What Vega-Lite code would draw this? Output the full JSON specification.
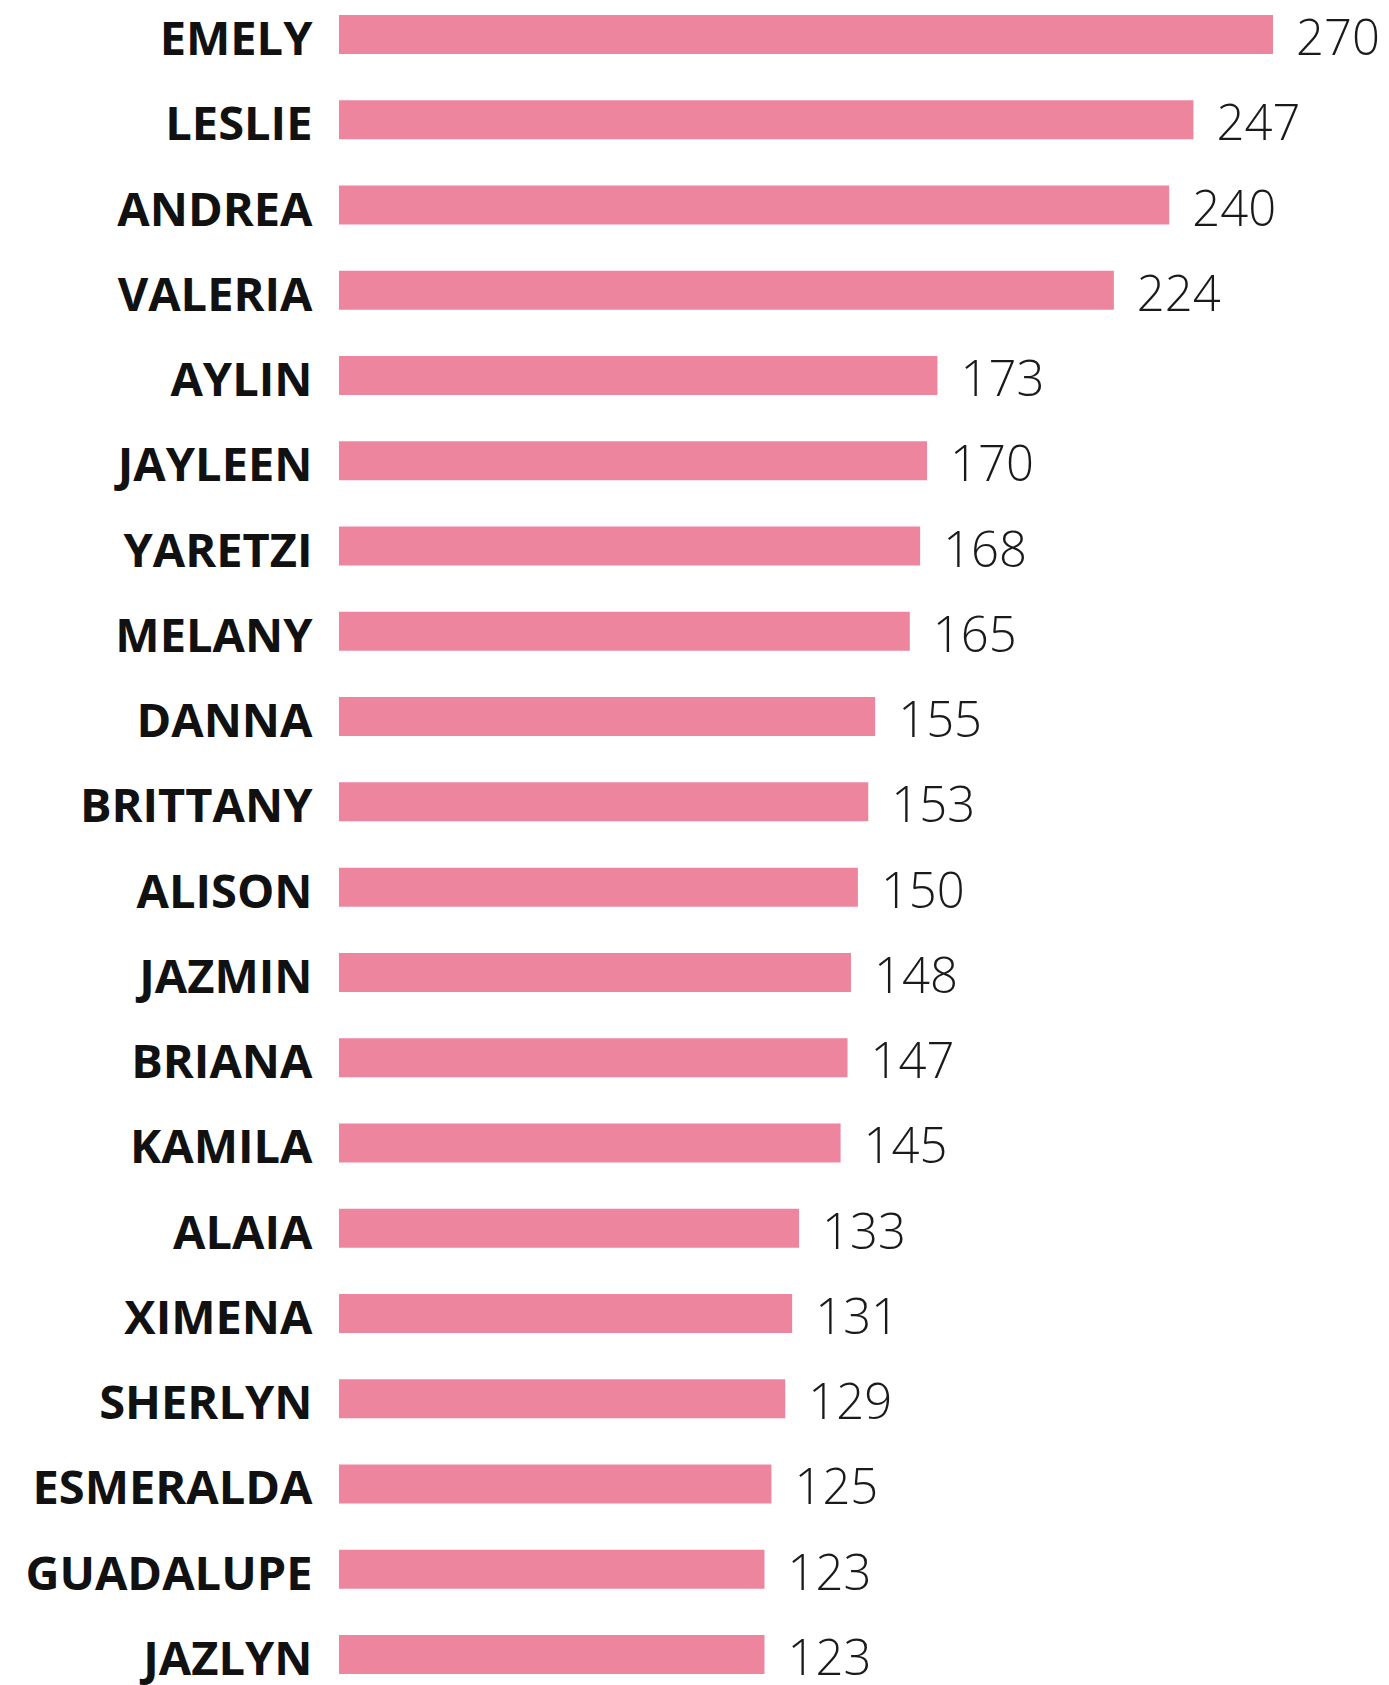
{
  "$schema": "https://vega.github.io/schema/vega-lite/v6.json",
  "autosize": {"type": "none"},
  "width": 934,
  "height": 1659,
  "padding": {"left": 339, "top": 15, "right": 116, "bottom": 11},
  "background": "white",
  "config": {"view": {"stroke": null}},
  "data": {
    "values": [
      {"name": "EMELY", "count": 270},
      {"name": "LESLIE", "count": 247},
      {"name": "ANDREA", "count": 240},
      {"name": "VALERIA", "count": 224},
      {"name": "AYLIN", "count": 173},
      {"name": "JAYLEEN", "count": 170},
      {"name": "YARETZI", "count": 168},
      {"name": "MELANY", "count": 165},
      {"name": "DANNA", "count": 155},
      {"name": "BRITTANY", "count": 153},
      {"name": "ALISON", "count": 150},
      {"name": "JAZMIN", "count": 148},
      {"name": "BRIANA", "count": 147},
      {"name": "KAMILA", "count": 145},
      {"name": "ALAIA", "count": 133},
      {"name": "XIMENA", "count": 131},
      {"name": "SHERLYN", "count": 129},
      {"name": "ESMERALDA", "count": 125},
      {"name": "GUADALUPE", "count": 123},
      {"name": "JAZLYN", "count": 123}
    ]
  },
  "encoding": {
    "y": {
      "field": "name",
      "type": "nominal",
      "sort": null,
      "scale": {"paddingInner": 0.5426, "paddingOuter": 0},
      "axis": {
        "title": null,
        "domain": false,
        "ticks": false,
        "grid": false,
        "labelPadding": 27,
        "labelFont": "Open Sans",
        "labelFontSize": 47,
        "labelFontWeight": 700,
        "labelColor": "#111111",
        "labelBaseline": "alphabetic",
        "labelOffset": 20.5,
        "labelLimit": 0
      }
    },
    "x": {
      "field": "count",
      "type": "quantitative",
      "scale": {"domain": [0, 270], "nice": false, "zero": true},
      "axis": null
    }
  },
  "layer": [
    {"mark": {"type": "bar", "color": "#ed859f"}},
    {
      "mark": {
        "type": "text",
        "align": "left",
        "baseline": "alphabetic",
        "dx": 23,
        "dy": 20.5,
        "font": "Open Sans",
        "fontSize": 49,
        "fontWeight": 300,
        "color": "#1a1a1a"
      },
      "encoding": {"text": {"field": "count", "type": "quantitative"}}
    }
  ]
}
